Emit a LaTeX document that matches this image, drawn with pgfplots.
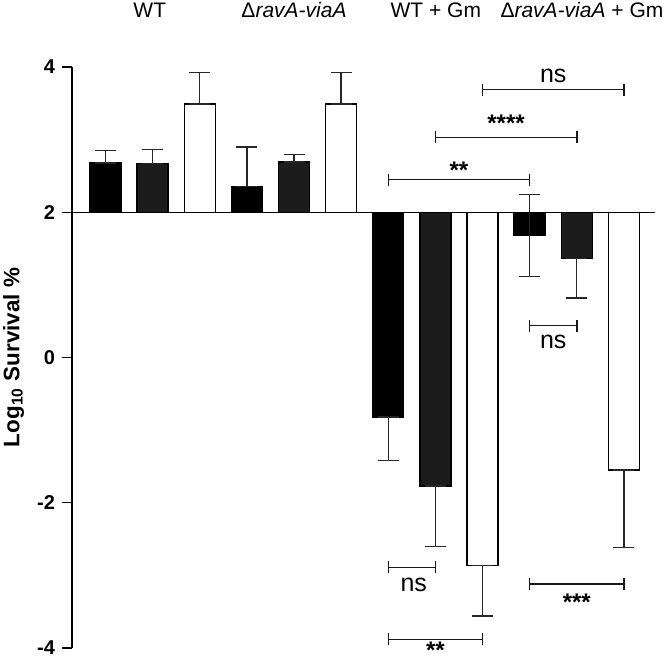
\documentclass[border=0pt]{standalone}
\usepackage{fontspec}
\setmainfont{Liberation Sans}
\usepackage{pgfplots}
\pgfplotsset{compat=1.18}
\usepackage{pgfplotstable}
\definecolor{dg}{gray}{0.11}

% x = bar position, v = Log10 survival %, ep / em = error up / down
\pgfplotstableread{
x v ep em
1 2.68 0.17 0
4 2.35 0.55 0
7 -0.82 0 0.60
10 1.68 0.56 0.56
}\blackdata
\pgfplotstableread{
x v ep em
2 2.67 0.19 0
5 2.69 0.11 0
8 -1.77 0 0.83
11 1.36 0 0.54
}\greydata
\pgfplotstableread{
x v ep em
3 3.49 0.43 0
6 3.49 0.43 0
9 -2.86 0 0.70
12 -1.55 0 1.07
}\whitedata

\begin{document}
\begin{tikzpicture}
\begin{axis}[
  scale only axis, width=291.5pt, height=290.5pt,
  xmin=0.289, xmax=12.66, ymin=-6, ymax=2,
  axis x line=none, axis y line*=left,
  ytick={-6,-4,-2,0,2}, yticklabels={-4,-2,0,2,4},
  tick align=outside, major tick length=5pt,
  ytick style={black, line width=0.75pt},
  axis line style={black, line width=0.75pt},
  yticklabel style={font=\bfseries\fontsize{10}{12}\selectfont},
  clip=false,
  barstyle/.style={ybar, bar width=15.5pt, bar shift=0pt, draw=black, line width=0.65pt,
    error bars/y dir=both, error bars/y explicit,
    error bars/error bar style={line width=0.65pt, black!85},
    error bars/error mark options={rotate=90, line width=0.65pt, mark size=5.25pt, black!85}},
  bracket/.style={black!90, line width=0.75pt, mark=|, mark size=3pt, mark options={solid, line width=0.75pt}},
]
\addplot[barstyle, fill=black] table[x=x, y expr=\thisrow{v}-2, y error plus=ep, y error minus=em] {\blackdata};
\addplot[barstyle, fill=dg] table[x=x, y expr=\thisrow{v}-2, y error plus=ep, y error minus=em] {\greydata};
\addplot[barstyle, fill=white] table[x=x, y expr=\thisrow{v}-2, y error plus=ep, y error minus=em] {\whitedata};
% baseline at Log10 survival = 2
\addplot[black, line width=0.75pt] coordinates {(0.289,0) (12.66,0)};
% significance brackets
\addplot[bracket] coordinates {(9,1.69) (12,1.69)};
\addplot[bracket] coordinates {(8,1.03) (11,1.03)};
\addplot[bracket] coordinates {(7,0.45) (10,0.45)};
\addplot[bracket] coordinates {(10,-1.56) (11,-1.56)};
\addplot[bracket] coordinates {(7,-4.89) (8,-4.89)};
\addplot[bracket] coordinates {(10,-5.12) (12,-5.12)};
\addplot[bracket] coordinates {(7,-5.88) (9,-5.88)};
\node[anchor=base, font=\fontsize{12.5}{14}\selectfont] at (axis cs:10.5,1.793) {ns};
\node[anchor=base, font=\bfseries\fontsize{12}{14}\selectfont] at (axis cs:9.5,1.115) {****};
\node[anchor=base, font=\bfseries\fontsize{12}{14}\selectfont] at (axis cs:8.5,0.468) {**};
\node[anchor=base, font=\fontsize{12.5}{14}\selectfont] at (axis cs:10.5,-1.870) {ns};
\node[anchor=base, font=\fontsize{12.5}{14}\selectfont] at (axis cs:7.54,-5.227) {ns};
\node[anchor=base, font=\bfseries\fontsize{12}{14}\selectfont] at (axis cs:11,-5.483) {***};
\node[anchor=base, font=\bfseries\fontsize{12}{14}\selectfont] at (axis cs:8,-6.15) {**};
% group labels
\node[anchor=base, font=\fontsize{10.5}{12}\selectfont] at (axis cs:1.94,2.675) {WT};
\node[anchor=base, font=\fontsize{10.5}{12}\selectfont] at (axis cs:5.0,2.675) {Δ\textit{ravA-viaA}};
\node[anchor=base, font=\fontsize{10.5}{12}\selectfont] at (axis cs:8.01,2.675) {WT + Gm};
\node[anchor=base, font=\fontsize{10.5}{12}\selectfont] at (axis cs:11.11,2.675) {Δ\textit{ravA-viaA} + Gm};
% y label
\node[rotate=90, anchor=base, font=\bfseries\fontsize{11.2}{13}\selectfont] at (axis cs:-0.829,-2) {Log\textsubscript{10} Survival \%};
\coordinate (O) at (axis cs:0.289,-6);
\end{axis}
\pgfresetboundingbox
\path[use as bounding box] ([shift={(-36pt,-5pt)}]O) rectangle ([shift={(297pt,324pt)}]O);
\end{tikzpicture}
\end{document}
